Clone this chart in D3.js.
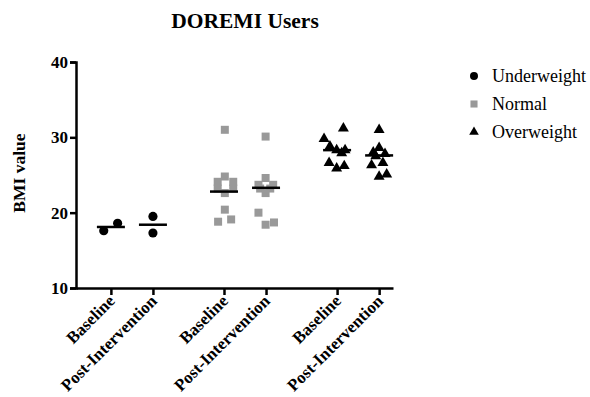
<!DOCTYPE html>
<html>
<head>
<meta charset="utf-8">
<script src="https://cdn.jsdelivr.net/npm/d3@7"></script>
<style>
  body { margin: 0; background: #fff; }
  text { font-family: "Liberation Serif", "Times New Roman", serif; }
</style>
</head>
<body>
<script>
const width = 590, height = 397;

// categories
const groups = ["Underweight", "Normal", "Overweight"];
const timepoints = ["Baseline", "Post-Intervention"];
const yTicks = [10, 20, 30, 40];

// BMI values per column, with horizontal spread (in column units) as GraphPad draws it
const underBase = [[17.6, -0.17], [18.6, 0.16]];
const underPost = [[19.5, 0], [17.3, 0]];
const normalBase = [[31.0, 0.02], [24.8, 0.02], [24.1, -0.15], [24.1, 0.22], [23.2, -0.15],
                    [23.2, 0.22], [22.6, 0.02], [20.4, 0.02], [18.8, -0.14], [19.1, 0.17]];
const normalPost = [[30.1, -0.01], [24.6, -0.01], [23.7, -0.18], [23.7, 0.17], [23.2, -0.14],
                    [23.2, 0.1], [22.6, -0.01], [20.0, -0.18], [18.4, -0.01], [18.7, 0.19]];
const overBase = [[31.2, 0.15], [29.8, -0.31], [28.8, -0.17], [28.3, -0.01], [27.9, 0.11],
                  [28.3, 0.19], [26.6, -0.19], [25.9, -0.01], [26.2, 0.17]];
const overPost = [[31.0, 0], [28.6, 0], [28.0, -0.14], [27.8, 0.14], [26.3, -0.18],
                  [26.6, 0.09], [24.8, 0], [25.1, 0.18], [27.5, -0.08]];
// mean lines
const meanValues = [[18.1, 18.4], [22.8, 23.3], [28.3, 27.6]];

const columns = [
  { group: 0, time: 0, pts: underBase },
  { group: 0, time: 1, pts: underPost },
  { group: 1, time: 0, pts: normalBase },
  { group: 1, time: 1, pts: normalPost },
  { group: 2, time: 0, pts: overBase },
  { group: 2, time: 1, pts: overPost }
];

const symbols = [d3.symbolCircle, d3.symbolSquare, d3.symbolTriangle];
const colors = ["#000", "#999", "#000"];
const symSize = [66, 64, 52];

const svg = d3.select("body").append("svg")
    .attr("width", width)
    .attr("height", height);

const colPos = (g, t) => g * 2.69 + t;

const x = d3.scaleLinear().domain([-0.83, 6.71]).range([76, 393]);
const y = d3.scaleLinear().domain([10, 40]).range([288, 62]);

// title
svg.append("text")
    .attr("x", 245).attr("y", 28)
    .attr("text-anchor", "middle")
    .attr("font-size", "21.5px")
    .attr("font-weight", "bold")
    .text("DOREMI Users");

// y axis
const yAxis = svg.append("g")
    .attr("transform", "translate(76,0)")
    .call(d3.axisLeft(y).tickValues(yTicks).tickSize(6).tickPadding(2));
yAxis.select(".domain").attr("stroke", "#000").attr("stroke-width", 2.5);
yAxis.selectAll(".tick line").attr("stroke", "#000").attr("stroke-width", 2.5);
yAxis.selectAll(".tick text")
    .attr("font-family", "Liberation Serif, serif")
    .attr("font-size", "17px")
    .attr("font-weight", "bold")
    .attr("fill", "#000");

// x axis
const tickCols = columns.map(c => colPos(c.group, c.time));
const xAxis = svg.append("g")
    .attr("transform", "translate(0,288)")
    .call(d3.axisBottom(x).tickValues(tickCols).tickSize(7).tickSizeOuter(0).tickFormat(""));
xAxis.select(".domain").attr("stroke", "#000").attr("stroke-width", 2.5);
xAxis.selectAll(".tick line").attr("stroke", "#000").attr("stroke-width", 2.5);

svg.selectAll(".xlabel")
    .data(columns)
    .enter()
    .append("text")
    .attr("class", "xlabel")
    .attr("transform", d => `translate(${x(colPos(d.group, d.time)) + 5},${302}) rotate(-45)`)
    .attr("text-anchor", "end")
    .attr("font-size", "17px")
    .attr("font-weight", "bold")
    .text(d => timepoints[d.time]);

// y label
svg.append("text")
    .attr("transform", "translate(25,173) rotate(-90)")
    .attr("text-anchor", "middle")
    .attr("font-size", "17.5px")
    .attr("font-weight", "bold")
    .text("BMI value");

// points
columns.forEach(c => {
  svg.append("g").selectAll("path")
    .data(c.pts)
    .enter()
    .append("path")
    .attr("transform", d => `translate(${x(colPos(c.group, c.time) + d[1])},${y(d[0])})`)
    .attr("d", d3.symbol().type(symbols[c.group]).size(symSize[c.group]))
    .attr("fill", colors[c.group]);
});

// mean lines
columns.forEach(c => {
  const cx = x(colPos(c.group, c.time));
  const m = meanValues[c.group][c.time];
  svg.append("line")
    .attr("x1", cx - 14).attr("x2", cx + 14)
    .attr("y1", y(m)).attr("y2", y(m))
    .attr("stroke", "#000")
    .attr("stroke-width", 2.5);
});

// legend
const legend = svg.append("g").selectAll("g")
    .data(groups)
    .enter()
    .append("g")
    .attr("transform", (d, i) => `translate(474,${76 + i * 28})`);
legend.append("path")
    .attr("d", (d, i) => d3.symbol().type(symbols[i]).size(i === 2 ? 40 : 50)())
    .attr("fill", (d, i) => colors[i]);
legend.append("text")
    .attr("x", 18).attr("y", 6)
    .attr("font-size", "18px")
    .text(d => d);
</script>
</body>
</html>
